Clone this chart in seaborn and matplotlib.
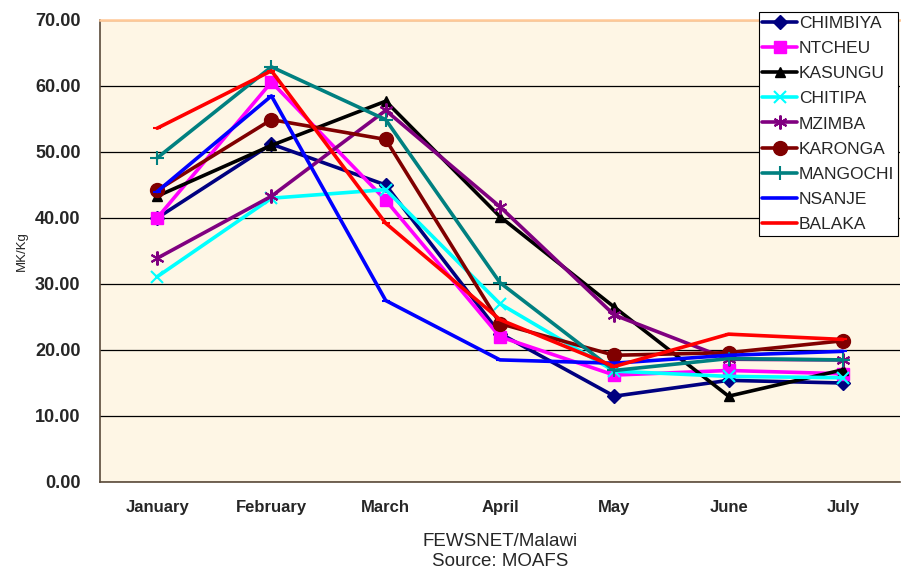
import matplotlib
matplotlib.use("Agg")
import matplotlib.pyplot as plt
import seaborn as sns
import pandas as pd
import numpy as np

months = ["January", "February", "March", "April", "May", "June", "July"]
series_names = ["CHIMBIYA", "NTCHEU", "KASUNGU", "CHITIPA", "MZIMBA",
                "KARONGA", "MANGOCHI", "NSANJE", "BALAKA"]
chimbiya = [40.0, 51.2, 45.0, 22.5, 13.0, 15.4, 15.0]
ntcheu = [40.0, 60.6, 42.7, 22.0, 16.2, 16.9, 16.4]
kasungu = [43.3, 51.0, 57.7, 40.2, 26.5, 13.0, 17.0]
chitipa = [31.1, 43.0, 44.3, 27.0, 16.8, 16.0, 15.8]
mzimba = [33.9, 43.3, 56.3, 41.7, 25.3, 18.6, 18.5]
karonga = [44.2, 54.9, 51.9, 24.0, 19.2, 19.6, 21.4]
mangochi = [49.1, 62.9, 54.9, 30.2, 16.9, 18.7, 18.5]
nsanje = [44.0, 58.5, 27.5, 18.5, 18.0, 19.2, 19.8]
balaka = [53.6, 62.3, 39.2, 24.6, 17.5, 22.4, 21.6]
values = [chimbiya, ntcheu, kasungu, chitipa, mzimba, karonga, mangochi, nsanje, balaka]

colors = ["#000080", "#FF00FF", "#000000", "#00FFFF", "#800080",
          "#800000", "#008080", "#0000FF", "#FF0000"]
asterisk = (6, 2, 0)
markers = ["D", "s", "^", "x", asterisk, "o", "+", "_", "_"]
msizes = [7, 9, 7, 9, 10, 10, 10, 6, 6]

rows = []
for name, vals in zip(series_names, values):
    for m, v in zip(months, vals):
        rows.append({"Month": m, "Price": v, "Market": name})
df = pd.DataFrame(rows)

sns.set_style("white")
plt.rcParams["font.family"] = ["Liberation Sans", "DejaVu Sans"]

fig = plt.figure(figsize=(9.01, 5.72), dpi=100)
ax = fig.add_axes([100 / 901, 1 - 482 / 572, 800 / 901, (482 - 20) / 572])
ax.set_facecolor("#FEF6E5")

for name, col, mk, ms in zip(series_names, colors, markers, msizes):
    sub = df[df["Market"] == name]
    mew = 1.5 if mk in ("x", "+", asterisk, "_") else 1.0
    sns.lineplot(data=sub, x="Month", y="Price", ax=ax, color=col, lw=2.6,
                 marker=mk, markersize=ms, markeredgecolor=col,
                 markerfacecolor=col, markeredgewidth=mew, label=name,
                 sort=False)

ax.set_xlim(-0.5, 6.5)
ax.set_ylim(0, 70)
ax.set_yticks(np.arange(0, 71, 10))
ax.set_yticklabels([f"{v:.2f}" for v in np.arange(0, 71, 10)],
                   fontsize=13, fontweight="bold")
ax.set_xticks(range(len(months)))
ax.set_xticklabels(months, fontsize=12, fontweight="bold")
ax.set_xticks(np.arange(-0.5, 7, 1), minor=True)
ax.tick_params(axis="x", which="major", length=0, pad=13)
ax.tick_params(axis="x", which="minor", length=5, width=0.8, color="#333333")
ax.tick_params(axis="y", which="major", length=5, width=0.8, color="#333333", pad=9)
ax.grid(axis="y", color="black", lw=0.9)
ax.set_axisbelow(True)

ax.spines["right"].set_visible(False)
ax.spines["top"].set_color("#FFC896")
ax.spines["top"].set_linewidth(1.8)
ax.spines["left"].set_color("#5a4a3a")
ax.spines["left"].set_linewidth(1.2)
ax.spines["bottom"].set_color("#5a4a3a")
ax.spines["bottom"].set_linewidth(1.2)

ax.set_xlabel("FEWSNET/Malawi\nSource: MOAFS", fontsize=13.5, labelpad=13,
              linespacing=1.2)
ax.set_ylabel("MK/Kg", fontsize=9.5, labelpad=5)

if ax.legend_:
    ax.legend_.remove()
handles, labels = ax.get_legend_handles_labels()
leg = fig.legend(handles, labels, loc="upper left",
                 bbox_to_anchor=(759 / 901, 1 - 12 / 572),
                 frameon=True, fancybox=False, edgecolor="black",
                 fontsize=12.5, handlelength=2.0, labelspacing=0.58,
                 borderpad=0.2, handletextpad=0.1, borderaxespad=0)
leg.get_frame().set_linewidth(0.8)
leg.get_frame().set_facecolor("white")
leg.get_frame().set_alpha(1)

fig.savefig("out.png", dpi=100)
